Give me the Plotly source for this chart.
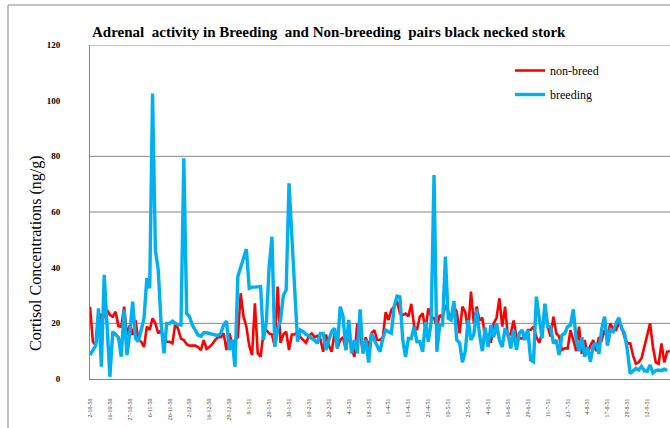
import plotly.graph_objects as go

# Cortisol concentration (ng/g) per faecal sample, in collection order
non_breed = [
    26, 13.4, 12.2, 18, 23, 22.4, 24.8, 23, 22.4, 24.2,
    19, 18.8, 26, 15.8, 19.4, 15.8, 21.2, 14, 13.4, 11.5,
    18.8, 17.6, 21.8, 20, 16.4, 17.5, 14.5, 13.4, 13.4, 12.8,
    20, 18, 14.5, 14, 12.5, 12, 12, 12, 11.5, 10.4,
    14, 10.8, 11.5, 12.5, 14, 15, 15, 16.4, 10.4, 16.4,
    12.8, 14, 15, 30.8, 22.4, 18.8, 12, 8.6, 27.2, 9.2,
    8, 16.4, 17.6, 16.4, 16, 11.6, 33.2, 13, 16, 17,
    10.4, 16, 16, 17, 15, 14, 13, 15.5, 16.4, 15,
    15.5, 14.5, 9.8, 16, 12, 9.8, 16.4, 11, 14, 15,
    10.4, 16.4, 11, 8, 20, 16.4, 9.2, 15, 11.6, 16.4,
    17.6, 14, 14, 15, 24, 21.2, 24.8, 26, 28, 23.6,
    23, 23.5, 22.5, 27, 19, 17.6, 22.4, 23.6, 17.6, 25.4,
    22.4, 21.8, 18.8, 23, 22, 26.6, 24.5, 21.8, 26, 24.2,
    16.4, 26, 24, 17, 31.4, 20, 26, 21, 22, 14.6,
    15.5, 13, 20, 22, 29, 18.8, 26, 15, 16.4, 21,
    15, 14.6, 14.6, 15.2, 17.6, 17.6, 18.8, 15.2, 13, 16.4,
    27, 18.8, 15.2, 22.4, 16.4, 15.2, 10.4, 11, 11, 17.6,
    14, 10, 18.8, 9, 14, 9, 12, 14, 10, 15,
    14, 17.6, 15, 20, 18, 17.6, 20, 18.8, 15, 12.8,
    12.8, 8.5, 5.5, 6, 7.5, 11.5, 16.4, 20, 11.5, 6,
    5.5, 12.8, 6, 9.8, 10,
]

breeding = [
    8.6, 10.5, 12, 25.4, 4.4, 37.4, 20, 0.8, 17, 16,
    15, 8, 24.8, 8.6, 16.4, 27.8, 14.6, 13.4, 17.6, 21.8,
    36.2, 32.6, 102.6, 46.3, 39.2, 20, 9.2, 20, 20, 20.8,
    20, 19.5, 19.4, 79.3, 23.6, 22.4, 19.4, 17.6, 15.8, 15.4,
    16.6, 16.6, 16.4, 16, 15.8, 15.6, 16.4, 19.4, 20.8, 10.4,
    14, 4.4, 36.8, 40, 43, 46.7, 32.6, 33, 33, 33.2,
    33.2, 14, 20, 40, 51.1, 11.6, 18, 21, 30, 32,
    70.3, 51.3, 32.4, 13.4, 17.6, 17, 16, 15.5, 14.5, 14,
    12.8, 16.4, 16.4, 10.4, 14, 17, 18.2, 11, 26, 22.5,
    10.4, 21.2, 9.2, 14, 9.2, 25, 9.2, 14, 5.9, 16.4,
    14, 12, 9.8, 14.6, 17.6, 17, 16.5, 26, 29.8, 29.5,
    14, 8, 14.6, 14.5, 18.8, 13.4, 13.4, 9.8, 20.6, 13.4,
    20.6, 73.3, 9.8, 19.4, 19.4, 44, 21.8, 21.2, 28, 14,
    13, 6, 10, 21.2, 14, 16, 25, 16, 10, 18.5,
    11.5, 19.4, 15, 20, 14, 11.5, 18.2, 16.4, 11, 17.6,
    10.4, 16.4, 17.6, 14, 17.6, 6.8, 6.2, 29.6, 22.4, 14.6,
    27, 18.8, 18.8, 12.8, 14, 8.6, 15.8, 16.4, 18.8, 19.4,
    25, 14, 10, 15, 8, 11.5, 6.2, 12, 13, 9,
    18, 22.4, 12, 17.6, 17, 20, 22, 18, 16.5, 10.4,
    2, 3, 3.8, 3.2, 4.5, 3, 2.8, 5, 2.2, 3,
    3.2, 3, 3.5, 3, None,
]

# Sampling dates shown on the category axis (every 7th sample)
date_labels = [
    "2-10-50", "16-10-50", "27-10-50", "6-11-50", "20-11-50", "2-12-50",
    "16-12-50", "29-12-50", "9-1-51", "20-1-51", "30-1-51", "10-2-51",
    "20-2-51", "4-3-51", "18-3-51", "1-4-51", "13-4-51", "23-4-51",
    "10-5-51", "23-5-51", "4-6-51", "16-6-51", "29-6-51", "11-7-51",
    "23-7-51", "4-8-51", "17-8-51", "29-8-51", "12-9-51", "24-9-51",
]
label_step = 7

y_ticks = [0, 20, 40, 60, 80, 100, 120]
grid_levels = [20, 60, 80, 120]

sample_no = list(range(len(non_breed)))
tick_pos = sample_no[::label_step][:len(date_labels)]

SERIF = "Liberation Serif, Times New Roman, serif"
GRID = "#868686"

fig = go.Figure()
fig.add_trace(go.Scatter(
    x=sample_no, y=non_breed, mode="lines", name="non-breed",
    legendgroup="a",
    line=dict(color="#FF0000", width=2.6),
))
fig.add_trace(go.Scatter(
    x=sample_no, y=breeding, mode="lines", name="breeding",
    legendgroup="b",
    line=dict(color="#00B0F0", width=3.4),
))

shapes = [
    dict(type="line", xref="paper", yref="y", x0=0, x1=1, y0=g, y1=g,
         line=dict(color=GRID, width=1), layer="below")
    for g in grid_levels
]
# outer chart frame
shapes.append(dict(type="rect", xref="paper", yref="paper",
                   x0=-0.1414, x1=1.2, y0=-0.5, y1=1.1198,
                   line=dict(color=GRID, width=1), layer="below"))

fig.update_layout(
    width=670, height=428,
    margin=dict(l=90, r=0, t=45, b=49),
    paper_bgcolor="white", plot_bgcolor="white",
    title=dict(
        text="<b>Adrenal  activity in Breeding  and Non-breeding  pairs black necked stork</b>",
        font=dict(family=SERIF, size=15, color="black"),
        xref="container", x=92 / 670, xanchor="left",
        yref="container", y=1 - 32 / 428, yanchor="middle",
    ),
    xaxis=dict(
        range=[0, len(non_breed) - 1],
        tickmode="array", tickvals=tick_pos, ticktext=date_labels,
        tickangle=-90, ticks="", showgrid=False, zeroline=False,
        showline=True, linecolor=GRID, linewidth=1,
        tickfont=dict(family=SERIF, size=6, color="#404040"),
        ticklabelstandoff=16,
    ),
    yaxis=dict(
        range=[0, 120], tickmode="array", tickvals=y_ticks,
        ticks="", showgrid=False, zeroline=False,
        showline=True, linecolor=GRID, linewidth=1,
        tickfont=dict(family=SERIF, size=9, color="black", weight="bold"),
        ticklabelstandoff=27,
    ),
    legend=dict(
        x=(510 - 90) / 580, y=(379 - 56) / 334, xanchor="left", yanchor="top",
        bgcolor="rgba(0,0,0,0)", tracegroupgap=5,
        font=dict(family=SERIF, size=12, color="black"),
    ),
    shapes=shapes,
    annotations=[dict(
        text="Cortisol Concentrations (ng/g)", textangle=-90,
        xref="paper", yref="paper", x=(36 - 90) / 580, y=(379 - 253) / 334,
        xanchor="center", yanchor="middle", showarrow=False,
        font=dict(family=SERIF, size=16, color="black"),
    )],
)

fig.write_html("out.html")
